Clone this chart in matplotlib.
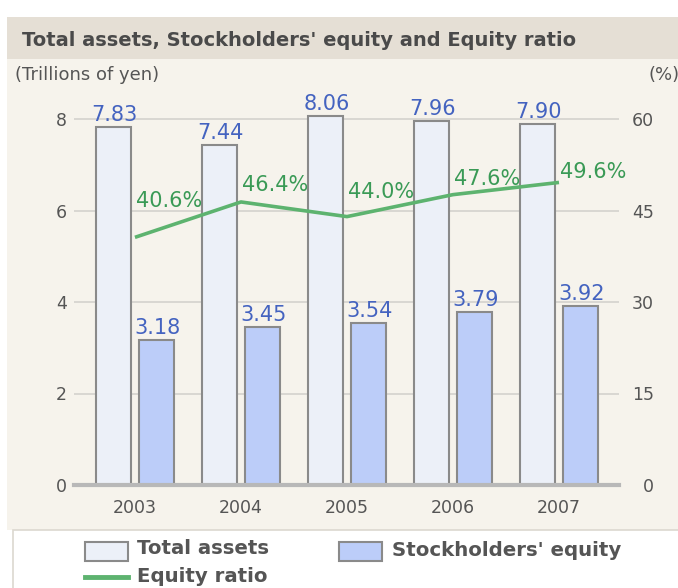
import matplotlib
matplotlib.use("Agg")
import matplotlib.pyplot as plt
import matplotlib.patches as mpatches
import matplotlib.lines as mlines
import numpy as np

years = ["2003", "2004", "2005", "2006", "2007"]
total_assets = [7.83, 7.44, 8.06, 7.96, 7.90]
equity = [3.18, 3.45, 3.54, 3.79, 3.92]
equity_ratio = [40.6, 46.4, 44.0, 47.6, 49.6]
left_ticks = [0, 2, 4, 6, 8]
right_ticks = [0, 15, 30, 45, 60]

# label offsets (pixels above the point) for ratio labels
ratio_label_dy = [36, 17, 25, 16, 10]

W, H = 678, 588
fig = plt.figure(figsize=(W / 100, H / 100), dpi=100)
fig.patch.set_facecolor("white")


def fx(x):
    return x / W


def fy(y):
    return 1 - y / H


def rect(x0, y0, x1, y1, **kw):
    r = mpatches.Rectangle((fx(x0), fy(y1)), fx(x1) - fx(x0), fy(y0) - fy(y1),
                           transform=fig.transFigure, **kw)
    fig.add_artist(r)
    return r


# panel backgrounds
rect(7, 17, 680, 530, facecolor="#f6f3ec", edgecolor="none", zorder=0)
rect(7, 17, 680, 59, facecolor="#e5dfd5", edgecolor="none", zorder=0)
rect(13, 530, 690, 600, facecolor="white", edgecolor="#dcd8d0", lw=1.2, zorder=0)

fig.text(fx(22), fy(40), "Total assets, Stockholders' equity and Equity ratio",
         fontsize=14, fontweight="bold", color="#4a4a4a", va="center", ha="left")
fig.text(fx(15), fy(75), "(Trillions of yen)", fontsize=13, color="#555555",
         va="center", ha="left")
fig.text(fx(648), fy(75), "(%)", fontsize=13, color="#555555", va="center", ha="left")

ax_left, ax_right, ax_top, ax_bot = 74, 619, 95, 485
ax = fig.add_axes([fx(ax_left), fy(ax_bot), fx(ax_right) - fx(ax_left), fy(ax_top) - fy(ax_bot)])
ax.set_facecolor("none")
ppu = 45.75
ymax = (ax_bot - ax_top) / ppu
ax.set_ylim(0, ymax)
ax.set_xlim(-0.575, 4.566)
for s in ax.spines.values():
    s.set_visible(False)

x = np.arange(len(years))
bw = 0.33
off = 0.2
ax.bar(x - off, total_assets, bw, color="#ecf0f8", edgecolor="#8a8a8a", lw=1.5, zorder=3)
ax.bar(x + off, equity, bw, color="#bccdf9", edgecolor="#8a8a8a", lw=1.5, zorder=3)

label_blue = "#4463c0"
for xi, v in zip(x, total_assets):
    ax.annotate(f"{v:.2f}", (xi - off, v), xytext=(1, 2), textcoords="offset pixels",
                ha="center", va="bottom", fontsize=15, color=label_blue, zorder=5)
for xi, v in zip(x, equity):
    ax.annotate(f"{v:.2f}", (xi + off, v), xytext=(1, 2), textcoords="offset pixels",
                ha="center", va="bottom", fontsize=15, color=label_blue, zorder=5)

ax.set_yticks(left_ticks)
ax.set_yticklabels([str(t) for t in left_ticks])
ax.grid(axis="y", color="#d6d4d0", lw=1.3, zorder=1)
ax.set_axisbelow(True)
ax.axhline(0, color="#b8b8b8", lw=3, zorder=4, clip_on=False)
ax.tick_params(axis="y", length=0, pad=5, labelsize=12.5, labelcolor="#555555")
ax.set_xticks(x)
ax.set_xticklabels(years)
ax.tick_params(axis="x", length=0, pad=10, labelsize=12.5, labelcolor="#555555")

ax2 = ax.twinx()
ax2.set_ylim(0, ymax * 7.5)
for s in ax2.spines.values():
    s.set_visible(False)
ax2.set_yticks(right_ticks)
ax2.set_yticklabels([str(t) for t in right_ticks], ha="right")
ax2.tick_params(axis="y", length=0, pad=25, labelsize=12.5, labelcolor="#555555")
ax2.plot(x, equity_ratio, color="#5db36f", lw=2.6, zorder=6, solid_capstyle="butt")
for xi, v, dy in zip(x, equity_ratio, ratio_label_dy):
    ax2.annotate(f"{v:.1f}%", (xi, v), xytext=(1, dy), textcoords="offset pixels",
                 ha="left", va="center", fontsize=15, color="#3a9a56", zorder=7)

# legend
rect(85, 542, 128, 561, facecolor="#ecf0f8", edgecolor="#8a8a8a", lw=1.5, zorder=2)
rect(339, 542, 382, 561, facecolor="#bccdf9", edgecolor="#8a8a8a", lw=1.5, zorder=2)
fig.add_artist(mlines.Line2D([fx(85), fx(128)], [fy(577), fy(577)], color="#5db36f",
                             lw=3.5, transform=fig.transFigure, zorder=2))
fig.text(fx(137), fy(549), "Total assets", fontsize=14.2, fontweight="bold",
         color="#555555", va="center", ha="left")
fig.text(fx(392), fy(551), "Stockholders' equity", fontsize=14.2, fontweight="bold",
         color="#555555", va="center", ha="left")
fig.text(fx(137), fy(577), "Equity ratio", fontsize=14.2, fontweight="bold",
         color="#555555", va="center", ha="left")

fig.savefig("out.png", dpi=100)
